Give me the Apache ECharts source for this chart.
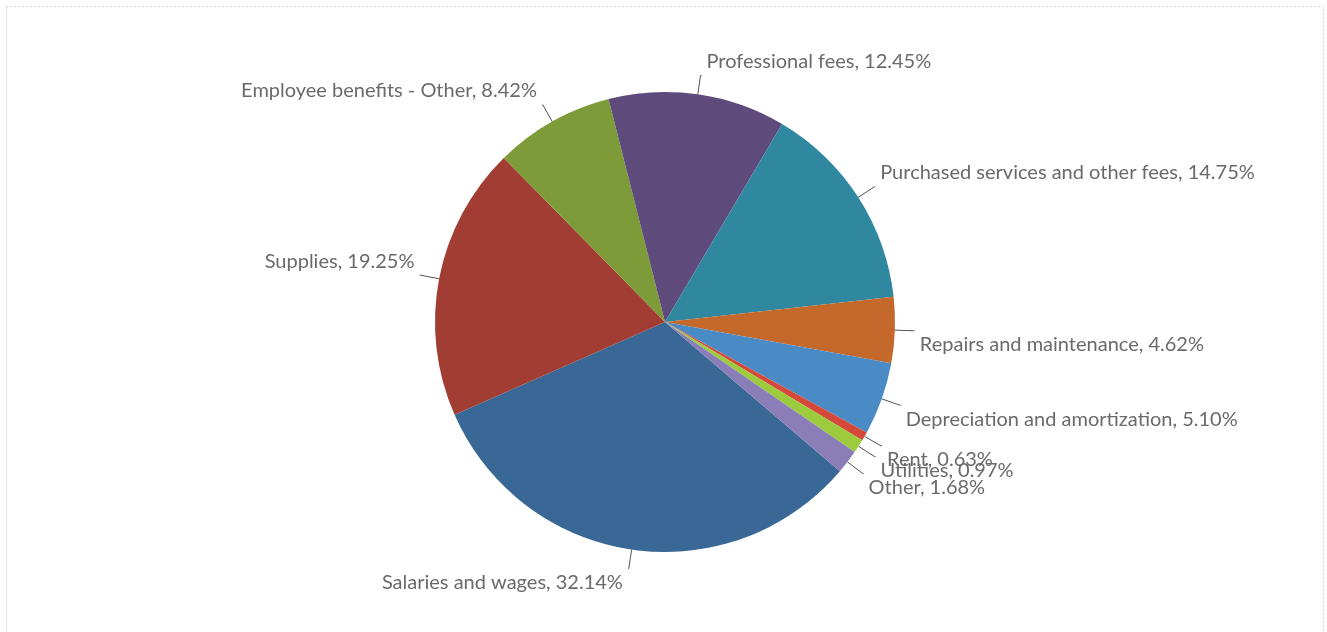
<!DOCTYPE html>
<html>
<head>
<meta charset="utf-8">
<title>Expense breakdown</title>
<script src="https://cdn.jsdelivr.net/npm/echarts@6/dist/echarts.min.js"></script>
<style>
  html, body { margin: 0; padding: 0; background: #ffffff; }
  #chart { width: 1327px; height: 632px; }
</style>
</head>
<body>
<div id="chart"></div>
<script>
// Expense categories, clockwise from the start of the largest slice
const categories = [
  'Salaries and wages',
  'Supplies',
  'Employee benefits - Other',
  'Professional fees',
  'Purchased services and other fees',
  'Repairs and maintenance',
  'Depreciation and amortization',
  'Rent',
  'Utilities',
  'Other'
];
// Share of total expenses, in percent
const shares = [32.14, 19.25, 8.42, 12.45, 14.75, 4.62, 5.10, 0.63, 0.97, 1.68];
const sliceColors = [
  '#3a6896', '#a13d33', '#7e9b3a', '#5e4b7c', '#2f88a0',
  '#c4682b', '#4a8bc6', '#d5493b', '#9ccc3d', '#8b7eb8'
];

const CENTER = [665, 322];
const chart = echarts.init(document.getElementById('chart'));

chart.setOption({
  animation: false,
  backgroundColor: '#ffffff',
  graphic: [{
    type: 'rect',
    shape: { x: 6.5, y: 6.5, width: 1317, height: 640 },
    style: { fill: 'none', stroke: '#d4d4d4', lineWidth: 1, lineDash: [2, 2] },
    silent: true
  }],
  series: [{
    type: 'pie',
    center: CENTER,
    radius: [0, 230],
    startAngle: -40.5,
    clockwise: true,
    avoidLabelOverlap: false,
    minShowLabelAngle: 0,
    itemStyle: { borderWidth: 0 },
    label: {
      show: true,
      position: 'outside',
      formatter: p => p.name + ', ' + p.value.toFixed(2) + '%',
      color: '#6a6a6a',
      fontFamily: 'Lato, "Open Sans", sans-serif',
      fontSize: 20,
      distanceToLabelLine: 5
    },
    labelLine: {
      show: true,
      length: 19,
      length2: 1,
      smooth: false,
      lineStyle: { color: '#555555', width: 1 }
    },
    // Lift labels above the leader line on the upper half, drop them below on the lower half
    labelLayout: params => {
      const pts = params.labelLinePoints;
      if (!pts) return {};
      const endY = pts[pts.length - 1][1];
      const shift = params.labelRect.height / 2 + 4;
      return { dy: endY < CENTER[1] ? -shift : shift, hideOverlap: false };
    },
    emphasis: { disabled: true },
    data: categories.map((name, i) => ({
      name: name,
      value: shares[i],
      itemStyle: { color: sliceColors[i] }
    }))
  }]
});
</script>
</body>
</html>
